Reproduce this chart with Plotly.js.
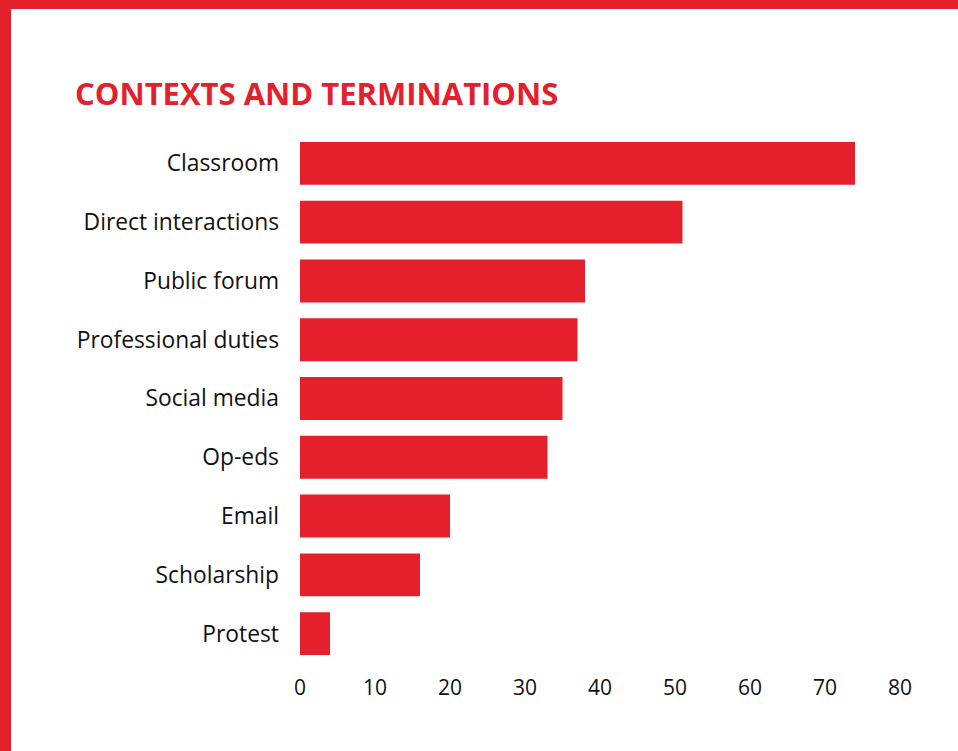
<!DOCTYPE html>
<html>
<head>
<meta charset="utf-8">
<script src="https://cdn.plot.ly/plotly-3.0.1.min.js"></script>
<style>
  html, body { margin: 0; padding: 0; background: #fff; }
  #frame {
    width: 947px;
    height: 742px;
    border-top: 9px solid #e3202b;
    border-left: 11px solid #e3202b;
  }
</style>
</head>
<body>
<div id="frame"><div id="chart" style="width:947px;height:742px;"></div></div>
<script>
// contexts, top to bottom as drawn
const contexts = [
  'Classroom',
  'Direct interactions',
  'Public forum',
  'Professional duties',
  'Social media',
  'Op-eds',
  'Email',
  'Scholarship',
  'Protest'
];
const terminations = [74, 51, 38, 37, 35, 33, 20, 16, 4];
const xTicks = [0, 10, 20, 30, 40, 50, 60, 70, 80];

const red = '#e3202b';

const trace = {
  type: 'bar',
  orientation: 'h',
  x: terminations,
  y: contexts,
  marker: { color: red },
  hoverinfo: 'x+y'
};

const layout = {
  width: 947,
  height: 742,
  margin: { l: 289, r: 58, t: 125, b: 88 },
  paper_bgcolor: '#fff',
  plot_bgcolor: '#fff',
  bargap: 0.27,
  showlegend: false,
  title: {
    text: 'CONTEXTS AND TERMINATIONS',
    font: { family: '"Open Sans", Arial, sans-serif', size: 31, color: red, weight: 700 },
    xref: 'container',
    yref: 'container',
    x: 64 / 947,
    xanchor: 'left',
    y: 1 - 85 / 742,
    yanchor: 'middle'
  },
  xaxis: {
    range: [0, 80],
    tickvals: xTicks,
    ticktext: xTicks.map(String),
    showgrid: false,
    zeroline: false,
    showline: false,
    ticks: '',
    ticklabelstandoff: 10,
    tickfont: { family: '"Open Sans", sans-serif', size: 21, color: '#111' },
    fixedrange: true
  },
  yaxis: {
    autorange: 'reversed',
    showgrid: false,
    zeroline: false,
    showline: false,
    ticks: '',
    ticklabelstandoff: 20,
    tickfont: { family: '"Open Sans", sans-serif', size: 22.8, color: '#111' },
    fixedrange: true
  }
};

Plotly.newPlot('chart', [trace], layout, { displayModeBar: false, staticPlot: true });
</script>
</body>
</html>
